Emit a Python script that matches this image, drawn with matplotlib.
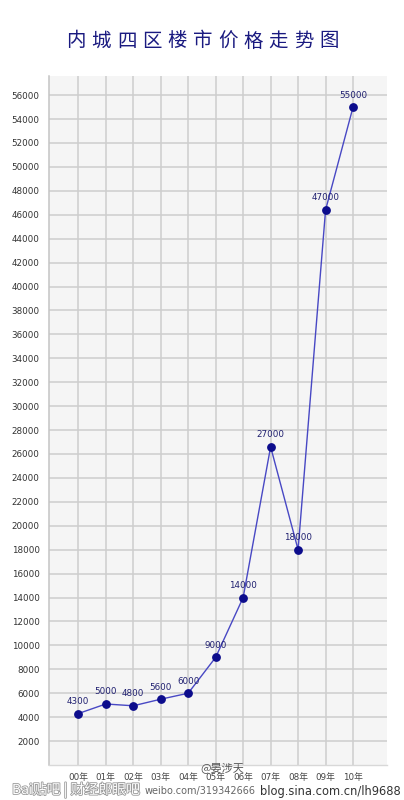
import matplotlib
matplotlib.use("Agg")
import matplotlib.pyplot as plt
import matplotlib.patheffects as pe

# ---- data ----
title = "内城四区楼市价格走势图"
years = ["00年", "01年", "02年", "03年", "04年", "05年", "06年", "07年", "08年", "09年", "10年"]
values = [4300, 5100, 4950, 5500, 6000, 9000, 14000, 26600, 18000, 46400, 55000]
value_labels = ["4300", "5000", "4800", "5600", "6000", "9000", "14000", "27000", "18000", "47000", "55000"]
yticks = list(range(2000, 56001, 2000))

CJK = ["Noto Sans CJK SC", "DejaVu Sans"]
MIX = ["DejaVu Sans", "Noto Sans CJK SC"]

fig = plt.figure(figsize=(4.04, 8.0), dpi=100)
fig.patch.set_facecolor("white")
ax = fig.add_axes([49.3 / 404, 1 - 765 / 800, (386.7 - 49.3) / 404, (765 - 76) / 800])
ax.set_facecolor("#f5f5f5")

x = list(range(len(years)))
ax.plot(x, values, color="#4848c4", lw=1.0, zorder=3)
ax.plot(x, values, "o", color="#0c0c8c", ms=5.3, zorder=4)

for xi, v, lab in zip(x, values, value_labels):
    ax.annotate(lab, (xi, v), xytext=(0, 12), textcoords="offset pixels",
                ha="center", va="center", fontsize=6.3, color="#202070",
                family=MIX, zorder=5)

ax.set_xlim(-1.055, 11.225)
ax.set_ylim(0, 57600)
ax.set_xticks(x)
ax.set_xticklabels(years, family=MIX, fontsize=6.3, color="#444444")
ax.set_yticks(yticks)
ax.set_yticklabels([str(t) for t in yticks], family="DejaVu Sans", fontsize=6.3, color="#333333")
ax.tick_params(axis="both", length=0)
ax.tick_params(axis="y", pad=7)
ax.tick_params(axis="x", pad=6)
ax.grid(True, color="#cdcdcd", lw=1.1, zorder=1)
ax.set_axisbelow(True)
for s in ["top", "right"]:
    ax.spines[s].set_visible(False)
ax.spines["left"].set_color("#c4c4c4")
ax.spines["left"].set_linewidth(1.1)
ax.spines["bottom"].set_color("#d8d8d8")
ax.spines["bottom"].set_linewidth(1.0)

# title, characters spaced out
x0, pitch = 76.0, 25.3
for i, ch in enumerate(title):
    fig.text((x0 + pitch * i) / 404, 1 - 41 / 800, ch, ha="center", va="center",
             fontsize=14, color="#1a1a80", family=CJK)

# watermarks
fig.text(12 / 404, 1 - 790 / 800, "Bai贴吧 | 财经郎眼吧", ha="left", va="center",
         fontsize=10, color="white", family=CJK,
         path_effects=[pe.withStroke(linewidth=1.2, foreground="#9a9a9a")])
fig.text(200 / 404, 1 - 768 / 800, "@晏涉天", ha="left", va="center",
         fontsize=8, color="#555555", family=CJK)
fig.text(145 / 404, 1 - 791 / 800, "weibo.com/319342666", ha="left", va="center",
         fontsize=7, color="#666666", family="DejaVu Sans")
fig.text(401 / 404, 1 - 792 / 800, "blog.sina.com.cn/lh9688", ha="right", va="center",
         fontsize=8.3, color="#333333", family="DejaVu Sans")

fig.savefig("out.png", dpi=100)
